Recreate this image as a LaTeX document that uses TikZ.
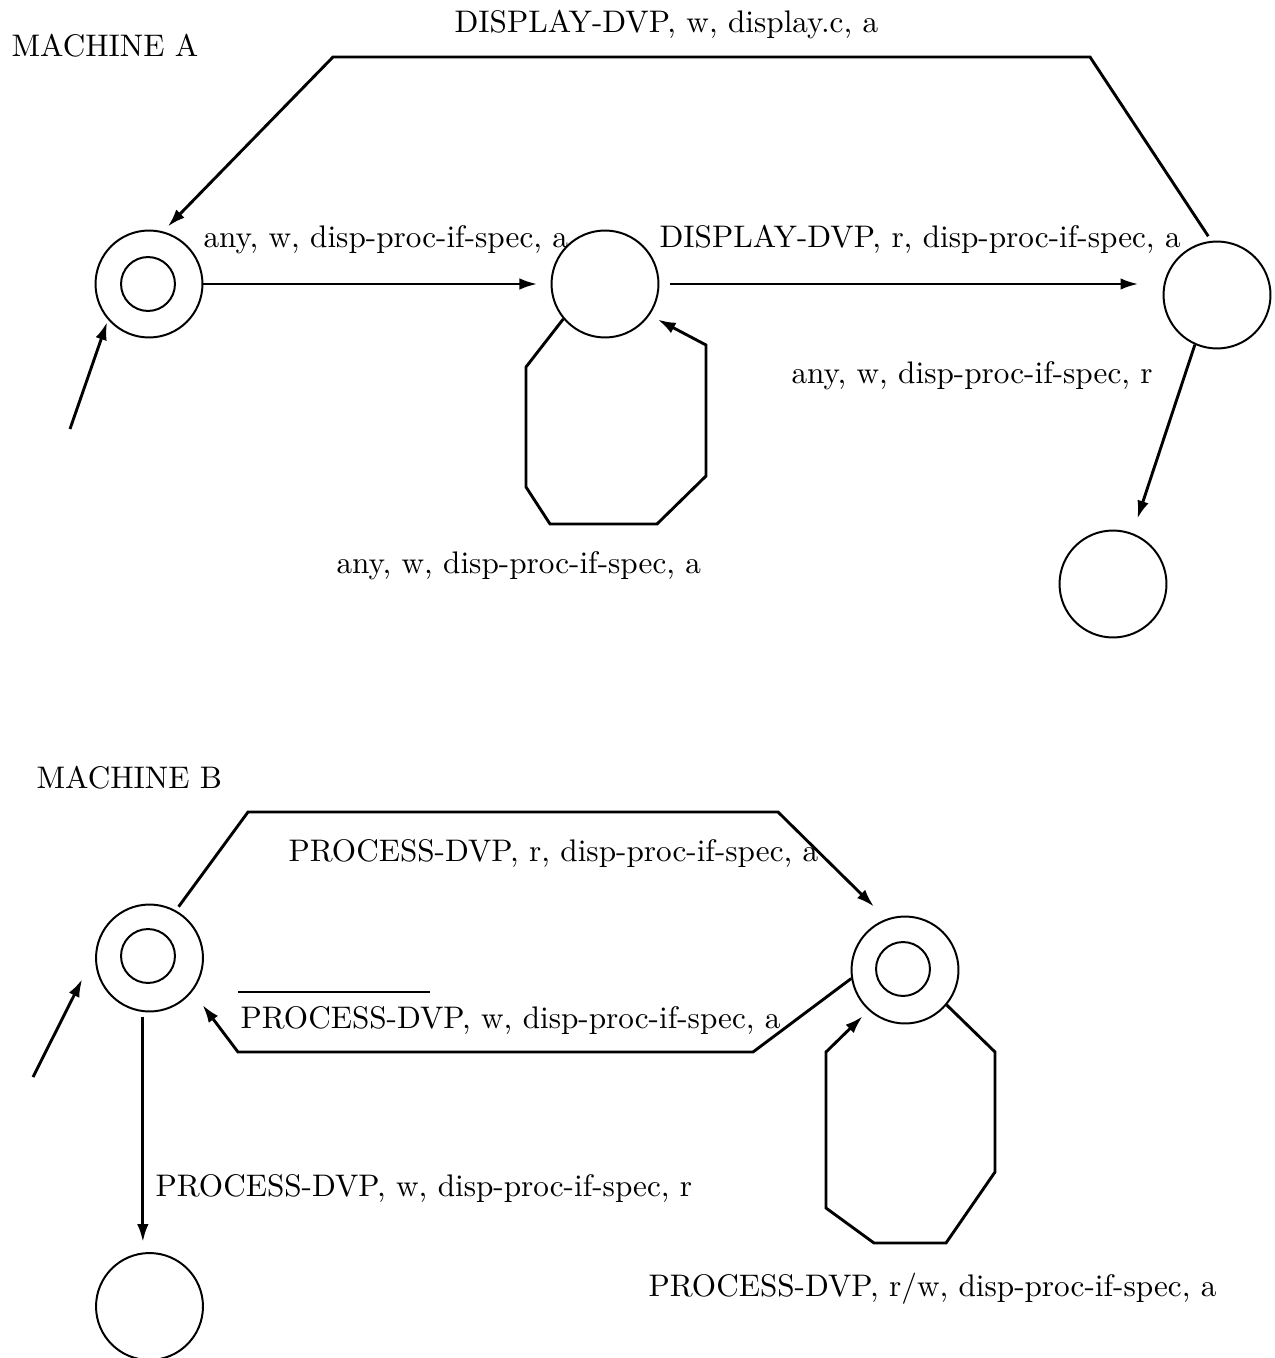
\documentclass[tikz,border=0pt]{standalone}
\usetikzlibrary{arrows.meta}
\begin{document}
\begin{tikzpicture}[x=0.3282pt,y=-0.3282pt,
  st/.style={circle,draw,line width=0.65pt,minimum size=35.1pt,inner sep=0pt},
  inner/.style={circle,draw,line width=0.65pt,minimum size=17.7pt,inner sep=0pt},
  arr/.style={-{Latex[length=5.9pt,width=3.8pt]},line width=0.95pt},
  plain/.style={line width=0.95pt},
  lbl/.style={anchor=base west,inner sep=0pt,font=\fontsize{10.24}{12}\selectfont}]
\useasboundingbox (0,0) rectangle (1274,1358);

% ---------- Machine A ----------
\node[lbl] (tA) at (11,57) {MACHINE A};
\node[st] (A0) at (149,284) {};
\node[inner] (A0i) at (148,284) {};
\node[st] (A1) at (605,284) {};
\node[st] (A2) at (1217,295) {};
\node[st] (A3) at (1113,584) {};
\coordinate (Ain) at (70,429);

\draw[arr,shorten >=0.8pt] (Ain) -- (A0.221);
\draw[arr,shorten >=4.3pt] (A0.east) -- (A1.west);
\draw[arr,shorten <=3.6pt,shorten >=7.9pt] (A1.east) -- (A1.east -| A2.west);
\draw[arr,shorten <=1.8pt,shorten >=2.2pt] (A2.96) -- (1090,57) -- (333,57) -- (A0.75);
\draw[arr,shorten >=3pt] (A1.220) -- (526,367) -- (526,487) -- (550,524) -- (657,524) -- (706,476) -- (706,345) -- (A1.325);
\draw[arr,shorten >=5pt] (A2.246) -- (A3.69);

\node[lbl] (lA1) at (454,33) {DISPLAY-DVP, w, display.c, a};
\node[lbl] (lA2) at (203,248) {any, w, disp-proc-if-spec, a};
\node[lbl] (lA3) at (659,248) {DISPLAY-DVP, r, disp-proc-if-spec, a};
\node[lbl] (lA4) at (791,383) {any, w, disp-proc-if-spec, r};
\node[lbl] (lA5) at (336,573) {any, w, disp-proc-if-spec, a};

% ---------- Machine B ----------
\node[lbl] (tB) at (36,788) {MACHINE B};
\node[st] (B0) at (149.5,958) {};
\node[inner] (B0i) at (148,956) {};
\node[st] (B1) at (905,970) {};
\node[inner] (B1i) at (903,969) {};
\node[st] (B2) at (149.5,1306.5) {};
\coordinate (Bin) at (33,1077);

\draw[arr,shorten >=9.5pt] (Bin) -- (B0.175);
\draw[arr,shorten <=1.5pt,shorten >=5.7pt] (B0.61) -- (248,812) -- (778,812) -- (B1.110);
\draw[arr,shorten >=5.5pt] (B1.189) -- (753,1052) -- (238,1052) -- (B0.322);
\draw[arr,shorten >=2.7pt] (B1.320) -- (995,1052) -- (995,1172) -- (946,1243) -- (874,1243) -- (826,1208) -- (826,1052) -- (B1.228);
\draw[arr,shorten <=1.5pt,shorten >=3.3pt] (B0.263) -- (B0.263 |- B2.north);

\node[lbl] (lB1) at (288,861) {PROCESS-DVP, r, disp-proc-if-spec, a};
\node[lbl] (lB2) at (240,1028) {PROCESS-DVP, w, disp-proc-if-spec, a};
\draw[plain] (238,992) -- (430,992);
\node[lbl] (lB3) at (155,1196) {PROCESS-DVP, w, disp-proc-if-spec, r};
\node[lbl] (lB4) at (648,1296) {PROCESS-DVP, r/w, disp-proc-if-spec, a};
\end{tikzpicture}
\end{document}
